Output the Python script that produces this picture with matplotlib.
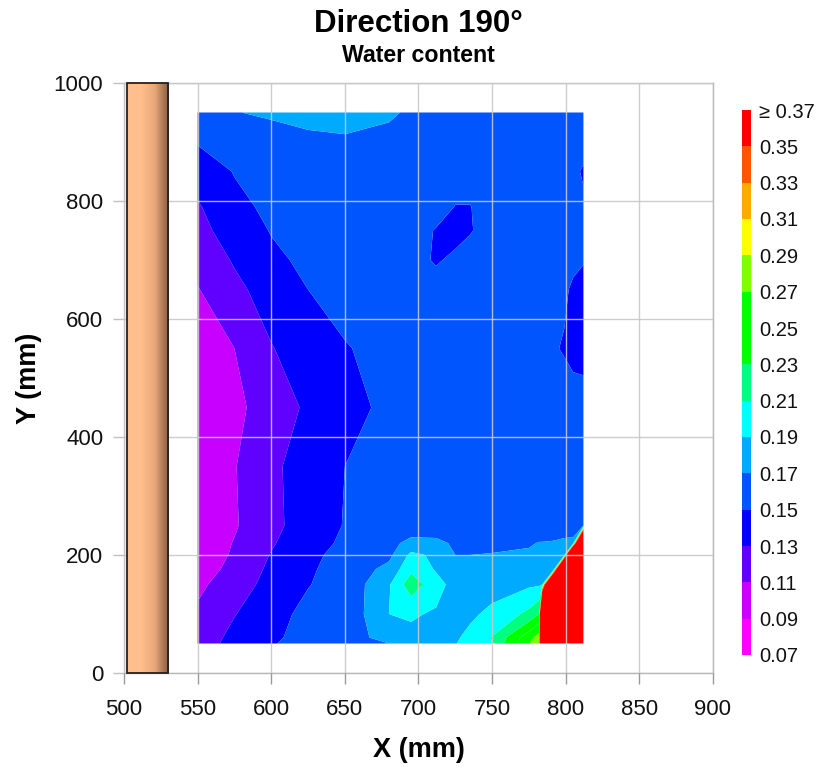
import numpy as np
import matplotlib
matplotlib.use('Agg')
import matplotlib.pyplot as plt
from matplotlib.colors import LinearSegmentedColormap
from matplotlib.patches import Rectangle

plt.rcParams['font.family'] = ['Liberation Sans', 'DejaVu Sans']

# grid of the measured water content
xs = [550, 575, 600, 625, 650, 680, 695, 712, 725, 735, 750, 775, 782, 784, 792, 799, 805, 812]
ys = [50, 60, 100, 150, 176, 200, 220, 250, 350, 450, 550, 650, 700, 750, 790, 850, 950]

w050 = [.118, .138, .149, .155, .160, .170, .176, .183, .189, .198, .210, .268, .285, 1.0, 1.0, 1.0, 1.0, 1.0]
w060 = [.117, .136, .148, .154, .155, .182, .186, .186, .188, .194, .211, .262, .280, 1.0, 1.0, 1.0, 1.0, 1.0]
w100 = [.113, .129, .146, .153, .155, .190, .192, .188, .183, .187, .194, .215, .230, 1.0, 1.0, 1.0, 1.0, 1.0]
w150 = [.106, .120, .137, .1495, .155, .188, .222, .197, .183, .183, .183, .187, .188, .189, 1.0, 1.0, 1.0, 1.0]
w176 = [.100, .116, .134, .148, .156, .176, .205, .188, .176, .176, .177, .179, .180, .180, .189, 1.0, 1.0, 1.0]
w200 = [.095, .113, .131, .147, .154, .165, .195, .186, .170, .170, .171, .173, .175, .175, .180, .189, 1.0, 1.0]
w220 = [.097, .111, .128, .143, .153, .165, .175, .175, .167, .165, .165, .168, .171, .171, .172, .175, .175, 1.0]
w250 = [.097, .108, .125, .139, .151, .156, .160, .158, .158, .158, .158, .158, .158, .158, .158, .158, .160, .168]
w350 = [.095, .109, .126, .139, .150, .154, .156, .157, .158, .158, .158, .158, .158, .158, .158, .158, .158, .157]
w450 = [.096, .105, .120, .133, .144, .154, .157, .158, .158, .158, .158, .158, .158, .158, .157, .156, .156, .156]
w550 = [.100, .110, .129, .140, .149, .155, .156, .157, .158, .158, .158, .156, .155, .154, .151, .149, .146, .145]
w650 = [.109, .125, .139, .150, .156, .158, .158, .156, .155, .156, .158, .157, .156, .156, .154, .152, .148, .145]
w700 = [.116, .132, .146, .154, .157, .158, .155, .1485, .153, .156, .157, .158, .157, .157, .156, .155, .153, .151]
w750 = [.124, .139, .151, .156, .158, .159, .157, .149, .145, .149, .156, .158, .158, .158, .158, .158, .157, .156]
w790 = [.128, .145, .154, .157, .158, .159, .159, .157, .1495, .1495, .157, .158, .158, .158, .158, .157, .156, .153]
w850 = [.138, .151, .156, .158, .158, .160, .160, .159, .157, .157, .158, .158, .158, .158, .158, .156, .154, .148]
w950 = [.165, .1695, .172, .175, .177, .172, .168, .166, .165, .165, .165, .165, .165, .165, .165, .165, .165, .165]
water = np.array([w050, w060, w100, w150, w176, w200, w220, w250, w350, w450, w550, w650, w700, w750, w790, w850, w950])

levels = [.07, .09, .11, .13, .15, .17, .19, .21, .23, .25, .27, .29, .31, .33, .35, .37]
band_colors = ['#FF00FF', '#C800FF', '#6000FF', '#0000FF', '#0055FF', '#00AAFF', '#00FFFF', '#00FF80',
               '#00FF00', '#00FF00', '#80FF00', '#FFFF00', '#FFAA00', '#FF5500', '#FF0000']
level_labels = ['0.07', '0.09', '0.11', '0.13', '0.15', '0.17', '0.19', '0.21', '0.23', '0.25',
                '0.27', '0.29', '0.31', '0.33', '0.35', '≥ 0.37']
x_ticks = [500, 550, 600, 650, 700, 750, 800, 850, 900]
y_ticks = [0, 200, 400, 600, 800, 1000]
wall = [502, 530]

W, H = 820, 767
fig = plt.figure(figsize=(W / 100, H / 100), dpi=100)
ax = fig.add_axes([124 / W, 1 - 673 / H, (713 - 124) / W, (673 - 83) / H])

ax.contourf(xs, ys, water, levels=levels, colors=band_colors + ['#FF0000'], extend='max',
            antialiased=True, zorder=2)

# wall with its shaded face
shade = LinearSegmentedColormap.from_list('wall', ['#FFC090', '#FFBE8C', '#E8A878', '#8A5C40'])
ax.imshow(np.linspace(0, 1, 64).reshape(1, -1), cmap=shade, aspect='auto',
          extent=(wall[0], wall[1], 0, 1000), zorder=3)
ax.add_patch(Rectangle((wall[0], 0), wall[1] - wall[0], 1000, fill=False, ec='#222222', lw=1.3,
                       clip_on=False, zorder=4))

ax.set_xlim(500, 900)
ax.set_ylim(0, 1000)
ax.set_xticks(x_ticks)
ax.set_yticks(y_ticks)
ax.grid(True, color='#C8C8C8', lw=1.0, alpha=0.9, zorder=2.5)
ax.set_axisbelow(False)
ax.tick_params(axis='x', labelsize=16, length=8, width=1, pad=11, color='#999999', labelcolor='#111111')
ax.tick_params(axis='y', labelsize=16, length=8, width=1, pad=7, color='#C0C0C0', labelcolor='#111111')
for s in ax.spines.values():
    s.set_color('#B8B8B8')
    s.set_linewidth(1.0)
ax.set_xlabel('X (mm)', fontsize=19.5, fontweight='bold', va='center')
ax.set_ylabel('Y (mm)', fontsize=19.5, fontweight='bold', va='center')
ax.xaxis.set_label_coords(0.5, -(750 - 673) / 590)
ax.yaxis.set_label_coords(-(124 - 29) / 589, 0.5)

fig.text(418 / W, 1 - 24 / H, 'Direction 190°', fontsize=22.5, fontweight='bold', ha='center', va='center')
fig.text(418 / W, 1 - 56 / H, 'Water content', fontsize=16.7, fontweight='bold', ha='center', va='center')

# colour key
cax = fig.add_axes([742 / W, 1 - 655 / H, 9 / W, (655 - 110) / H])
for i, c in enumerate(band_colors):
    cax.axhspan(levels[i], levels[i + 1], color=c, lw=0)
cax.set_ylim(levels[0], levels[-1])
cax.set_xticks([])
cax.yaxis.tick_right()
cax.set_yticks(levels)
cax.set_yticklabels(level_labels)
cax.tick_params(length=0, pad=6, labelsize=14.5, colors='#111111')
for s in cax.spines.values():
    s.set_visible(False)

fig.savefig('out.png', dpi=100)
